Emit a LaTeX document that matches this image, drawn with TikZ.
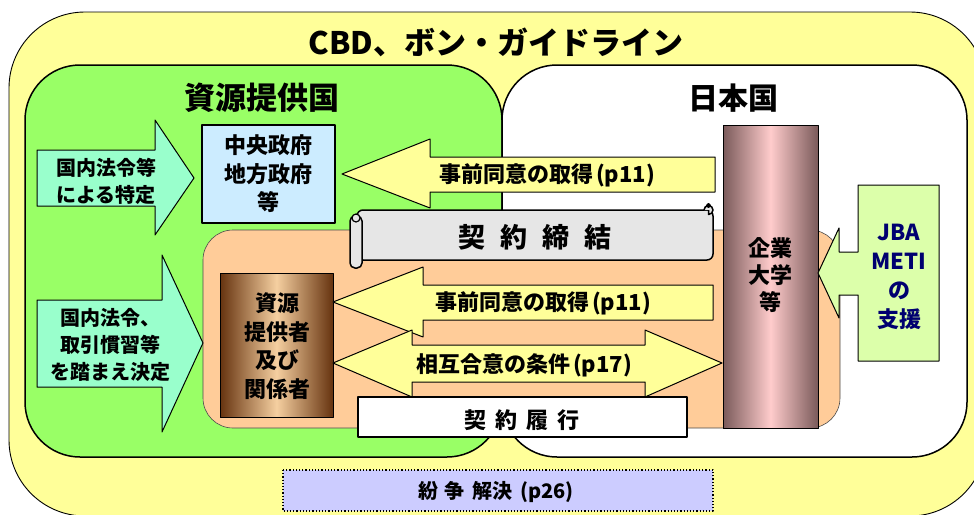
\documentclass[tikz,border=0pt]{standalone}
\usepackage{fontspec}
\setmainfont{Noto Sans CJK JP}
\usetikzlibrary{calc}
\definecolor{outery}{HTML}{FFFF99}
\definecolor{grn}{HTML}{99FF66}
\definecolor{peach}{HTML}{FFCC99}
\definecolor{govblue}{HTML}{CCECFF}
\definecolor{cyanar}{HTML}{99FFCC}
\definecolor{yelar}{HTML}{FFFF99}
\definecolor{scrollg}{HTML}{E6E6E6}
\definecolor{jbag}{HTML}{DCFFAA}
\definecolor{lav}{HTML}{CCCCFF}
\definecolor{brownd}{HTML}{66330F}
\definecolor{brownl}{HTML}{F5CFA0}
\definecolor{pild}{HTML}{7A5A5A}
\definecolor{pill}{HTML}{FFCCCC}
\definecolor{navy}{HTML}{000070}
\newcommand{\myfs}[2]{\fontsize{#1}{#2}\selectfont}
\tikzset{
  lbl/.style={align=center, inner sep=0pt},
  blk/.style={draw=black, line width=1pt},
}
\begin{document}
\begin{tikzpicture}[x=1pt,y=-1pt,line join=round]
\useasboundingbox (0,0) rectangle (974,514);
\clip (0,0) rectangle (974,514);
% outer
\draw[line width=0.9pt, fill=outery, rounded corners=76pt] (9,12) rectangle (986,516);
\node[lbl, font=\bfseries\myfs{31}{31}] (title) at (496,42) {CBD、ボン・ガイドライン};
% green and white regions
\draw[line width=1.5pt, fill=grn, rounded corners=55pt] (25,65) rectangle (502,457);
\draw[line width=1.5pt, fill=white, rounded corners=55pt] (502,65) rectangle (967,457);
\node[lbl, font=\bfseries\myfs{31}{31}] (prov) at (262,98) {資源提供国};
\node[lbl, font=\bfseries\myfs{30}{30}] (jap) at (733,98) {日本国};
% peach region
\draw[line width=0.6pt, draw=black!70, fill=peach, rounded corners=30pt] (203,230) rectangle (840,428);
% cyan arrows
\draw[blk, fill=cyanar] (37,150) -- (155,150) -- (155,120) -- (194,178) -- (155,235) -- (155,206) -- (37,206) -- cycle;
\node[lbl, font=\bfseries\myfs{20}{27}] (law1) at (106,181) {国内法令等\\による特定};
\draw[blk, fill=cyanar] (37,300) -- (162,300) -- (162,255) -- (203,343) -- (162,432) -- (162,387) -- (37,387) -- cycle;
\node[lbl, font=\bfseries\myfs{20}{27}] (law2) at (110,345) {国内法令、\\取引慣習等\\を踏まえ決定};
% government box
\node[draw, line width=1.6pt, fill=govblue, minimum width=133pt, minimum height=98pt, inner sep=0pt] (gov) at (268.5,174) {};
\node[lbl, font=\bfseries\myfs{22}{28.5}] (govt) at (gov.center) {中央政府\\地方政府\\等};
% provider box
\draw[line width=1pt, left color=brownd, right color=brownd, middle color=brownl] (220,273) rectangle (333,417);
\node[lbl, font=\bfseries\myfs{22}{28.5}] (provider) at (277,346) {資源\\提供者\\及び\\関係者};
% yellow arrow 1
\draw[blk, fill=yelar] (715,157) -- (430,157) -- (430,139) -- (342,174) -- (430,208) -- (430,192) -- (715,192) -- cycle;
\node[lbl, font=\bfseries\myfs{22}{22}] (pic1) at (547,175) {事前同意の取得\hspace{3pt}(p11)};
% scroll
\draw[line width=1.5pt, fill=scrollg, rounded corners=6pt] (357,210) -- (713,210) -- (713,260) -- (357,260) -- cycle;
\draw[line width=1.5pt, fill=scrollg] (704,210) arc[start angle=180, end angle=-90, radius=4.5pt] -- (708.5,210) ;
\draw[line width=1.5pt, fill=black] (708.5,205.5) circle (1.8pt);
\draw[line width=1.5pt, fill=scrollg, rounded corners=5pt] (350,216) rectangle (362,268);
\draw[line width=1.2pt, fill=scrollg] (356,218) circle (4pt);
\node[lbl, font=\bfseries\myfs{27}{27}] (contract) at (535,237) {契\hspace{15pt}約\hspace{15pt}締\hspace{15pt}結};
% yellow arrow 2
\draw[blk, fill=yelar] (713,285) -- (423,285) -- (423,267) -- (333,302) -- (423,337) -- (423,320) -- (713,320) -- cycle;
\node[lbl, font=\bfseries\myfs{22}{22}] (pic2) at (543,303) {事前同意の取得\hspace{3pt}(p11)};
% double arrow
\draw[blk, fill=yelar] (412,345) -- (645,345) -- (645,330) -- (722,363) -- (645,397) -- (645,382) -- (412,382) -- (412,397) -- (333,363) -- (412,330) -- cycle;
\node[lbl, font=\bfseries\myfs{22}{22}] (mat) at (524,365) {相互合意の条件\hspace{3pt}(p17)};
% performance box
\node[draw, line width=1.6pt, fill=white, minimum width=329pt, minimum height=40pt, inner sep=0pt] (perf) at (522.5,417) {};
\node[lbl, font=\bfseries\myfs{22}{22}] (perft) at (522,420) {契\hspace{9pt}約\hspace{9pt}履\hspace{9pt}行};
% pillar
\draw[line width=1pt, left color=pild, right color=pild, middle color=pill] (723,125) rectangle (818,428);
\node[lbl, font=\bfseries\myfs{22}{27}] (corp) at (770,275) {企業\\大学\\等};
% JBA callout
\draw[line width=1pt, fill=jbag] (939,185) -- (858,185) -- (858,252) -- (839,252) -- (839,228) -- (818,273) -- (839,318) -- (839,295) -- (858,295) -- (858,361) -- (939,361) -- cycle;
\node[lbl, text=navy, font=\bfseries\myfs{22}{29}] (jba) at (899,277) {JBA\\METI\\の\\支援};
% dispute
\draw[line width=1.2pt, dotted, fill=lav] (283,470) rectangle (713,511);
\node[lbl, font=\bfseries\myfs{20}{20}] (disp) at (496,492) {紛\hspace{6pt}争\hspace{8pt}解決\hspace{8pt}(p26)};
\end{tikzpicture}
\end{document}
